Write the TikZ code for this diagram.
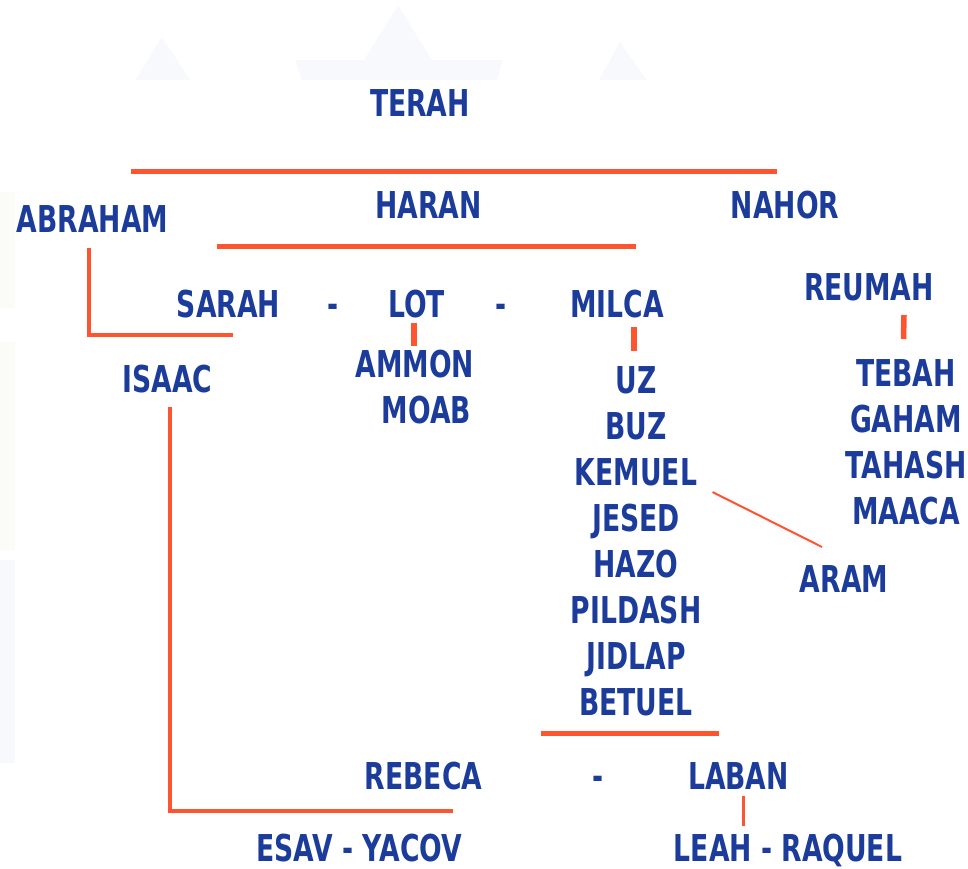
\documentclass[tikz,border=0pt]{standalone}
\usepackage{fontspec}
\newfontfamily\kinfont[FakeStretch=0.72]{DejaVu Sans}
\usetikzlibrary{calc}
\definecolor{kinblue}{RGB}{28,60,155}
\definecolor{kinred}{RGB}{255,84,48}
\definecolor{wmark}{RGB}{248,249,253}
\definecolor{wmgreen}{RGB}{251,252,248}

\begin{document}
\begin{tikzpicture}[x=1pt, y=-1pt,
  kin/.style={font=\kinfont\bfseries\fontsize{37}{40}\selectfont, text=kinblue, inner sep=0pt, anchor=base},
  bar/.style={draw=kinred, line width=5pt},
  leg/.style={draw=kinred, line width=4.5pt},
  tick/.style={draw=kinred, line width=5.5pt},
  twig/.style={draw=kinred, line width=2pt},
]
  \useasboundingbox (0,0) rectangle (968,868);
  % faint watermark
  \fill[wmark] (135,80) -- (162,37) -- (190,80) -- cycle;
  \fill[wmark] (295,60) -- (364,60) -- (398,5) -- (432,60) -- (503,60) -- (497,80) -- (302,80) -- cycle;
  \fill[wmark] (599,80) -- (620,42) -- (647,80) -- cycle;
  \fill[wmgreen] (0,192) rectangle (15,308);
  \fill[wmgreen] (0,342) rectangle (15,550);
  \fill[wmark] (0,560) rectangle (15,763);

  \node[kin] (terah) at (420,116) {TERAH};
  \node[kin] (abraham) at (92.5,232) {ABRAHAM};
  \node[kin] (haran) at (428.5,218) {HARAN};
  \node[kin] (nahor) at (785,218) {NAHOR};
  \node[kin] (sarah) at (228.5,317) {SARAH};
  \node[kin] (dashA) at (333,317) {-};
  \node[kin] (lot) at (416.5,317) {LOT};
  \node[kin] (dashB) at (501,317) {-};
  \node[kin] (milca) at (617,317) {MILCA};
  \node[kin] (reumah) at (869,300) {REUMAH};
  \node[kin] (isaac) at (167.5,392) {ISAAC};
  \node[kin] (ammon) at (415,377) {AMMON};
  \node[kin] (moab) at (426.5,423) {MOAB};
  \foreach \name [count=\k] in {UZ,BUZ,KEMUEL,JESED,HAZO,PILDASH,JIDLAP,BETUEL} {
    \node[kin] (m\k) at (636,347+46*\k) {\name};
  }
  \foreach \name [count=\k] in {TEBAH,GAHAM,TAHASH,MAACA} {
    \node[kin] (r\k) at (906,340+46*\k) {\name};
  }
  \node[kin] (aram) at (844,592) {ARAM};
  \node[kin] (rebeca) at (423.5,789) {REBECA};
  \node[kin] (dashC) at (598,789) {-};
  \node[kin] (laban) at (738.5,789) {LABAN};
  \node[kin] (esav) at (359.5,861) {ESAV - YACOV};
  \node[kin] (leah) at (788,861) {LEAH - RAQUEL};

  % family lines
  \draw[bar] ($(terah.base)+(-289,55)$) -- ($(terah.base)+(357,55)$);
  \draw[bar] ($(haran.base)+(-211.5,28)$) -- ($(haran.base)+(207.5,28)$);
  \draw[leg] ($(abraham.base)+(-3.5,16)$) |- ($(sarah.base)+(4.5,18)$);
  \draw[tick] ($(lot.base)+(-2.5,6)$) -- ($(ammon.north)+(-1,-3)$);
  \draw[tick] ($(milca.base)+(17,10)$) -- ($(m1.north)+(-2,-15)$);
  \draw[tick] ($(reumah.base)+(35,15)$) -- ($(r1.north)+(-2.5,-20)$);
  \draw[twig] ($(m3.base)+(76.5,7)$) -- ($(aram.base)+(-22,-45)$);
  \draw[bar] ($(m8.base)+(-95,18)$) -- ($(m8.base)+(83,18)$);
  \draw[leg] ($(isaac.base)+(2.5,15)$) |- ($(rebeca.base)+(29.5,22)$);
  \draw[draw=kinred, line width=3pt] ($(laban.base)+(4.5,7)$) -- ($(leah.north)+(-45,-7)$);
\end{tikzpicture}
\end{document}
